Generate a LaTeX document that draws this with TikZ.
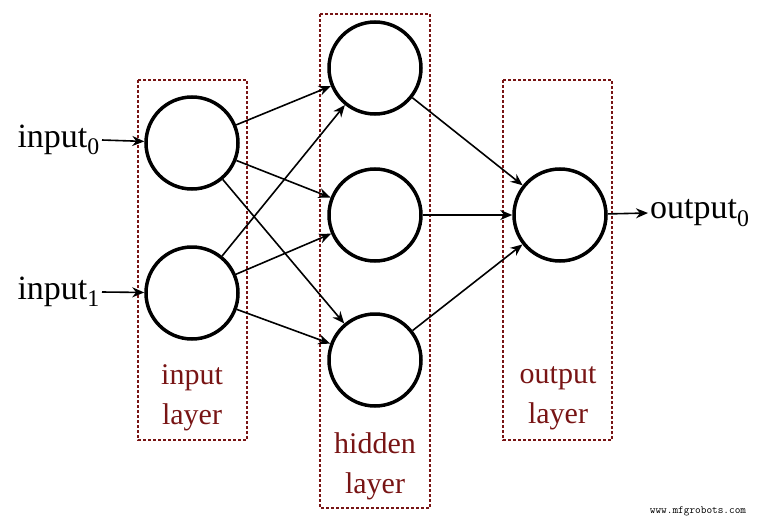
\documentclass[tikz,border=0pt]{standalone}
\usepackage{fontspec}
\setmainfont{Liberation Serif}
\usetikzlibrary{arrows.meta}
\definecolor{dred}{RGB}{120,20,20}
\begin{document}
\begin{tikzpicture}[x=1pt,y=-1pt,
  neuron/.style={circle,draw,line width=3.5pt,minimum size=92pt,inner sep=0},
  layerbox/.style={draw=dred,dash pattern=on 3pt off 2pt,line width=1.5pt},
  conn/.style={-{Stealth[length=12pt,width=10pt]},line width=1.6pt},
  lbl/.style={text=dred,font=\fontsize{30}{40}\selectfont,align=center},
  io/.style={font=\fontsize{34}{38}\selectfont,inner sep=2pt}]
\useasboundingbox (0,0) rectangle (766,522);
\draw[layerbox] (138,80) rectangle (247,440);
\draw[layerbox] (320,14) rectangle (430,508);
\draw[layerbox] (503,80) rectangle (612,440);
\node[neuron] (i0) at (192,143) {};
\node[neuron] (i1) at (192,293) {};
\node[neuron] (h0) at (375,68) {};
\node[neuron] (h1) at (375,215) {};
\node[neuron] (h2) at (375,360) {};
\node[neuron] (o0) at (560,215) {};
\node[io,anchor=east] (in0) at (102,140) {input\textsubscript{0}};
\node[io,anchor=east] (in1) at (102,292) {input\textsubscript{1}};
\node[io,anchor=west] (out0) at (648,213) {output\textsubscript{0}};
\draw[conn] (in0.east) -- (i0);
\draw[conn] (in1.east) -- (i1);
\foreach \a in {i0,i1} \foreach \b in {h0,h1,h2} \draw[conn] (\a) -- (\b);
\foreach \b in {h0,h1,h2} \draw[conn] (\b) -- (o0);
\draw[conn] (o0) -- (out0.west);
\node[lbl] (l1) at (192,398) {input\\layer};
\node[lbl] (l2) at (375,466) {hidden\\layer};
\node[lbl] (l3) at (558,398) {output\\layer};
\node[font=\fontsize{11}{12}\selectfont\ttfamily] (wm) at (698,511) {www.mfgrobots.com};
\end{tikzpicture}
\end{document}
